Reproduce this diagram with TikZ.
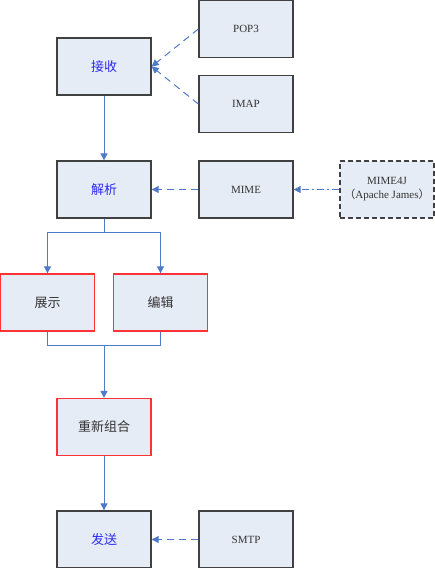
\documentclass[tikz,border=0pt]{standalone}
\usepackage{fontspec}
\setmainfont{Liberation Serif}
\newfontfamily\cjk{Noto Sans CJK SC}
\usetikzlibrary{arrows.meta}
\definecolor{boxfill}{HTML}{E6ECF6}
\definecolor{boxline}{HTML}{404040}
\definecolor{redline}{HTML}{FF3333}
\definecolor{conn}{HTML}{4F7AC7}
\definecolor{bluetext}{HTML}{2B2BF0}
\definecolor{graytext}{HTML}{333333}
\tikzset{
  box/.style={draw=boxline, line width=1.3pt, fill=boxfill, minimum width=94pt, minimum height=57pt, inner sep=0pt, font=\fontsize{11}{13}\selectfont, text=graytext},
  mainbox/.style={box, text=bluetext, font=\cjk\fontsize{13}{15}\selectfont},
  redbox/.style={box, draw=redline, text=graytext, font=\cjk\fontsize{13}{15}\selectfont},
  dashbox/.style={box, dashed, dash pattern=on 5pt off 3pt, align=center},
  link/.style={draw=conn, line width=1pt, -{Triangle[length=7pt,width=7pt]}},
  plain/.style={draw=conn, line width=1pt},
  dlink/.style={link, dash pattern=on 7pt off 5pt},
  ddlink/.style={link, dash pattern=on 7pt off 3pt on 2pt off 3pt},
}
\begin{document}
\begin{tikzpicture}[x=1pt,y=1pt]
\useasboundingbox (0,0) rectangle (435,-568);
\node[mainbox] (js) at (104,-66.5) {接收};
\node[box] (pop) at (246,-29) {POP3};
\node[box] (imap) at (246,-104) {IMAP};
\node[mainbox] (jx) at (104,-189.5) {解析};
\node[box] (mime) at (246,-189.5) {MIME};
\node[dashbox] (m4j) at (387,-189.5) {MIME4J\\[1pt]{\cjk （}Apache James{\cjk ）}};
\node[redbox] (zs) at (47.5,-302.5) {展示};
\node[redbox] (bj) at (160.5,-302.5) {编辑};
\node[redbox] (cx) at (104,-427) {重新组合};
\node[mainbox] (fs) at (104,-539.5) {发送};
\node[box] (smtp) at (246,-539.5) {SMTP};
\draw[dlink] (pop.west) -- (js.east);
\draw[dlink] (imap.west) -- (js.east);
\draw[link] (js.south) -- (jx.north);
\draw[dlink] (mime.west) -- (jx.east);
\draw[ddlink] (m4j.west) -- (mime.east);
\draw[plain] (jx.south) -- ++(0,-14) coordinate (sp);
\draw[link] (sp) -| (zs.north);
\draw[link] (sp) -| (bj.north);
\draw[plain] (zs.south) |- ++(56.5,-14) coordinate (mg);
\draw[plain] (bj.south) |- (mg);
\draw[link] (mg) -- (cx.north);
\draw[link] (cx.south) -- (fs.north);
\draw[dlink] (smtp.west) -- (fs.east);
\end{tikzpicture}
\end{document}
